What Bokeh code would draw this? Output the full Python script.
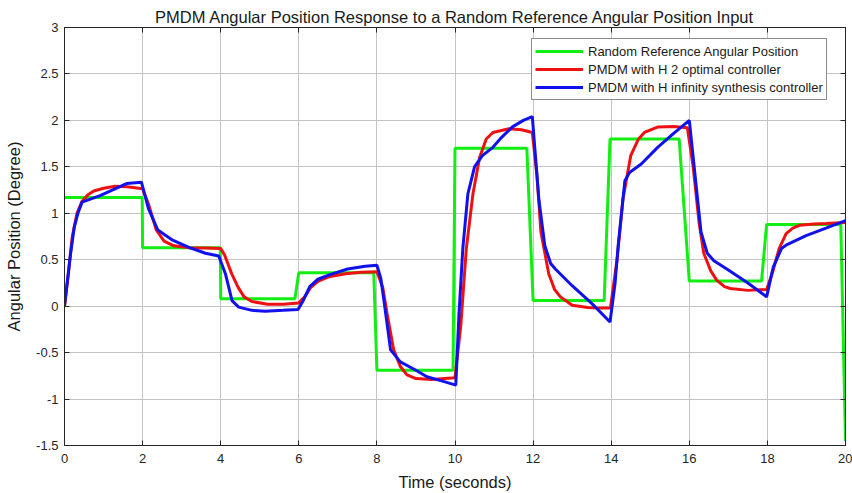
from bokeh.plotting import figure
from bokeh.models import Range1d, FixedTicker, LinearAxis, Legend, LegendItem
from bokeh.embed import file_html
from bokeh.resources import INLINE

title_text = "PMDM Angular Position Response to a Random Reference Angular Position Input"
x_label = "Time (seconds)"
y_label = "Angular Position (Degree)"
x_ticks = [0, 2, 4, 6, 8, 10, 12, 14, 16, 18, 20]
y_ticks = [-1.5, -1, -0.5, 0, 0.5, 1, 1.5, 2, 2.5, 3]
y_tick_labels = ["-1.5", "-1", "-0.5", "0", "0.5", "1", "1.5", "2", "2.5", "3"]
series_names = ["Random Reference Angular Position",
                "PMDM with H 2 optimal controller",
                "PMDM with H infinity synthesis controller"]

ref_t = [0, 1.99, 2.0, 3.99, 4.0, 5.9, 6.0, 7.92, 8.0, 9.95, 10.0, 11.84, 12.0,
         13.82, 13.97, 15.74, 16.0, 17.85, 17.98, 19.88, 20.0]
ref_y = [1.17, 1.17, 0.63, 0.63, 0.08, 0.08, 0.36, 0.36, -0.69, -0.69, 1.70, 1.70, 0.06,
         0.06, 1.80, 1.80, 0.27, 0.27, 0.88, 0.88, -1.45]

h2_t = [0, 0.1, 0.2, 0.32, 0.45, 0.6, 0.75, 1.0, 1.3, 1.6, 2.0, 2.15, 2.35, 2.55, 2.8,
        3.2, 3.6, 4.0, 4.1, 4.28, 4.45, 4.6, 4.8, 5.2, 5.6, 6.0, 6.15, 6.3, 6.5, 6.8,
        7.2, 7.6, 8.0, 8.15, 8.26, 8.43, 8.6, 8.77, 9.0, 9.4, 10.0, 10.15, 10.29, 10.46,
        10.63, 10.8, 10.97, 11.38, 11.7, 11.98, 12.1, 12.2, 12.4, 12.55, 12.7, 13.0,
        13.4, 13.67, 13.98, 14.15, 14.3, 14.5, 14.7, 14.85, 15.2, 15.6, 15.95, 16.1,
        16.25, 16.37, 16.55, 16.7, 16.9, 17.05, 17.5, 17.98, 18.08, 18.15, 18.3, 18.48,
        18.65, 18.82, 19.2, 19.5, 20.0]
h2_y = [0, 0.35, 0.75, 1.0, 1.13, 1.2, 1.24, 1.27, 1.29, 1.285, 1.265, 1.1, 0.82, 0.7, 0.65,
        0.63, 0.625, 0.62, 0.55, 0.35, 0.2, 0.1, 0.05, 0.02, 0.02, 0.035, 0.1, 0.2, 0.27, 0.32,
        0.35, 0.365, 0.37, 0.2, -0.08, -0.47, -0.65, -0.74, -0.78, -0.79, -0.77, -0.2, 0.62, 1.21,
        1.6, 1.8, 1.87, 1.91, 1.9, 1.87, 1.4, 0.8, 0.35, 0.18, 0.1, 0.01,
        -0.015, -0.02, -0.02, 0.5, 1.15, 1.62, 1.8, 1.87, 1.93, 1.935, 1.92, 1.5,
        0.9, 0.57, 0.38, 0.28, 0.21, 0.19, 0.17, 0.18, 0.3, 0.39, 0.62, 0.78,
        0.84, 0.87, 0.885, 0.89, 0.9]

hinf_t = [0, 0.15, 0.25, 0.35, 0.45, 0.91, 1.59, 1.97, 2.15, 2.39, 2.77, 3.2, 3.61, 3.95,
          4.12, 4.29, 4.46, 4.8, 5.14, 5.6, 5.98, 6.1, 6.28, 6.49, 6.8, 7.25, 7.7, 8.0,
          8.1, 8.18, 8.35, 8.6, 9.0, 9.28, 9.7, 10.02, 10.1, 10.2, 10.33, 10.5, 10.7,
          10.97, 11.2, 11.47, 11.75, 11.98, 12.15, 12.3, 12.45, 12.57, 13.0, 13.5, 13.97,
          14.1, 14.18, 14.35, 14.47, 14.77, 15.19, 15.6, 16.0, 16.15, 16.3, 16.46, 16.63,
          17.0, 17.5, 17.98, 18.15, 18.36, 18.49, 18.99, 19.5, 20.0]
hinf_y = [0, 0.55, 0.85, 1.01, 1.12, 1.19, 1.32, 1.335, 1.05, 0.82, 0.71, 0.63, 0.57, 0.54,
          0.35, 0.06, -0.01, -0.045, -0.055, -0.045, -0.035, 0.05, 0.21, 0.29, 0.34, 0.40, 0.43, 0.44,
          0.3, 0.06, -0.47, -0.6, -0.69, -0.76, -0.81, -0.85, -0.1, 0.62, 1.21, 1.50, 1.62,
          1.71, 1.82, 1.93, 2.0, 2.04, 1.14, 0.65, 0.46, 0.40, 0.22, 0.03, -0.17,
          0.25, 0.66, 1.35, 1.44, 1.53, 1.71, 1.86, 2.0, 1.4, 0.8, 0.57, 0.49,
          0.39, 0.25, 0.10, 0.42, 0.62, 0.66, 0.76, 0.84, 0.92]

FONT = "Liberation Sans"
TXT = "#262626"

p = figure(width=852, height=493, x_range=Range1d(0, 20), y_range=Range1d(-1.5, 3),
           output_backend="svg", toolbar_location=None,
           min_border_left=64, min_border_right=7, min_border_top=27, min_border_bottom=47,
           background_fill_color="white", border_fill_color="white")

p.title.text = title_text
p.title.align = "center"
p.title.text_font = FONT
p.title.text_font_size = "16.5px"
p.title.text_font_style = "normal"
p.title.text_color = "#1a1a1a"
p.title.standoff = 3

p.outline_line_color = TXT
p.outline_line_width = 1

for ax in (p.xaxis[0], p.yaxis[0]):
    ax.major_tick_in = 5
    ax.major_tick_out = 0
    ax.minor_tick_line_color = None
    ax.axis_line_color = TXT
    ax.major_tick_line_color = TXT
    ax.major_label_text_font = FONT
    ax.major_label_text_font_size = "13px"
    ax.major_label_text_color = TXT
    ax.axis_label_text_font = FONT
    ax.axis_label_text_font_size = "16.5px"
    ax.axis_label_text_font_style = "normal"
    ax.axis_label_text_color = "#1a1a1a"

p.xaxis.ticker = FixedTicker(ticks=x_ticks)
p.yaxis.ticker = FixedTicker(ticks=y_ticks)
p.yaxis.major_label_overrides = {t: l for t, l in zip(y_ticks, y_tick_labels)}
p.xaxis.axis_label = x_label
p.yaxis.axis_label = y_label
p.xaxis.major_label_standoff = 8
p.xaxis.axis_label_standoff = 7
p.yaxis.major_label_standoff = 6
p.yaxis.axis_label_standoff = 10

for loc, tk in (("right", y_ticks), ("above", x_ticks)):
    a = LinearAxis(ticker=FixedTicker(ticks=tk), major_tick_in=5, major_tick_out=0,
                   minor_tick_line_color=None, axis_line_color=TXT, major_tick_line_color=TXT,
                   major_label_text_font_size="1px", major_label_text_color=None,
                   major_label_standoff=0)
    p.add_layout(a, loc)

p.xgrid.ticker = FixedTicker(ticks=x_ticks)
p.ygrid.ticker = FixedTicker(ticks=y_ticks)
p.grid.grid_line_color = "#c4c4c4"
p.grid.grid_line_width = 1

r_ref = p.line(ref_t, ref_y, line_color="#11ee11", line_width=3)
r_h2 = p.line(h2_t, h2_y, line_color="#ee1111", line_width=3)
r_hinf = p.line(hinf_t, hinf_y, line_color="#1111ee", line_width=3)

legend = Legend(items=[LegendItem(label=series_names[0], renderers=[r_ref]),
                       LegendItem(label=series_names[1], renderers=[r_h2]),
                       LegendItem(label=series_names[2], renderers=[r_hinf])],
                location=(467, 345))
legend.label_text_font = FONT
legend.label_text_font_size = "13px"
legend.label_text_color = "#1a1a1a"
legend.glyph_width = 48
legend.glyph_height = 18
legend.label_height = 18
legend.label_standoff = 5
legend.spacing = 0
legend.padding = 3
legend.margin = 0
legend.border_line_color = "#1a1a1a"
legend.border_line_width = 1
legend.background_fill_color = "white"
legend.background_fill_alpha = 1
p.add_layout(legend)

open("out.html", "w").write(file_html(p, INLINE))
